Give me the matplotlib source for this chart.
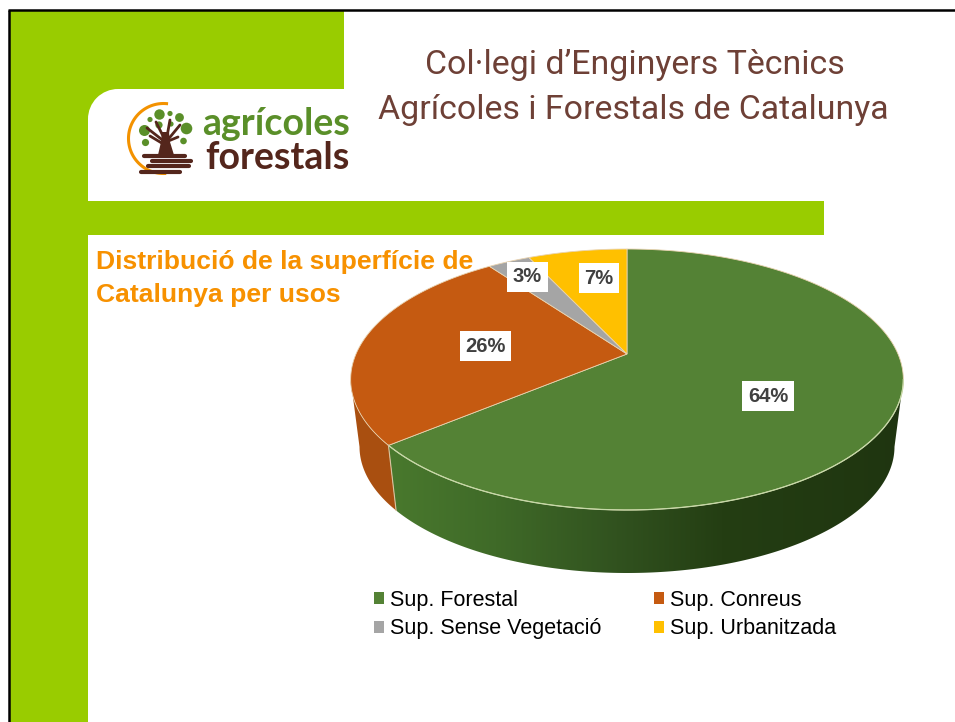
import numpy as np
import matplotlib
matplotlib.use('Agg')
import matplotlib.pyplot as plt
from matplotlib.patches import Circle, Polygon, Rectangle, Patch
from matplotlib.colors import LinearSegmentedColormap

plt.rcParams['font.family'] = ['Liberation Sans', 'DejaVu Sans']

categories = ['Sup. Forestal', 'Sup. Conreus', 'Sup. Sense Vegetació', 'Sup. Urbanitzada']
values = [64, 26, 3, 7]
pct_labels = ['64%', '26%', '3%', '7%']
colors = ['#548235', '#C55A11', '#A5A5A5', '#FFC000']
label_pos = [(768, 396), (485.5, 346), (527.5, 277), (599, 278)]

GREEN = '#99CC00'

# perspective pie, apex and size in pixels
cx, cy = 627, 354
a, b, k = 271, 125.5, 0.1955
shrink = 0.968
depth = 68


def rim(start, stop, n=200, lower=False):
    # start, stop: fraction of the circle, clockwise from 12 o'clock
    t = np.linspace(start, stop, n) * 2 * np.pi
    x, y = np.sin(t), np.cos(t)
    d = 1 + k * y
    px, py = a * x / d, -b * y / d
    if lower:
        return np.column_stack([cx + shrink * px, cy + depth + shrink * py])
    return np.column_stack([cx + px, cy + py])


fig = plt.figure(figsize=(9.55, 7.22), dpi=100)
ax = fig.add_axes([0, 0, 1, 1])

# slide background
ax.add_patch(Rectangle((9, 11), 79, 711, fc=GREEN, ec='none'))
ax.add_patch(Rectangle((88, 11), 256, 78, fc=GREEN, ec='none'))
ax.add_patch(Rectangle((88, 89), 30, 30, fc=GREEN, ec='none'))
ax.add_patch(Circle((118, 119), 30, fc='white', ec='none'))
ax.add_patch(Rectangle((88, 201), 736, 34, fc=GREEN, ec='none'))
ax.plot([8.5, 8.5], [722, 10], color='black', lw=1.8, solid_capstyle='butt')
ax.plot([8, 955], [10, 10], color='black', lw=1.8, solid_capstyle='butt')

# header
title_font = ['Roboto', 'DejaVu Sans']
ax.text(635, 65, 'Col·legi d’Enginyers Tècnics', ha='center', va='center',
        fontsize=24.4, color='#6E4036', family=title_font)
ax.text(633.5, 110, 'Agrícoles i Forestals de Catalunya', ha='center', va='center',
        fontsize=24.4, color='#6E4036', family=title_font)

# logo
t = np.radians(np.linspace(85, 272, 80))
ax.plot(163.5 + 35 * np.cos(t), 138.5 - 35 * np.sin(t), color='#F39200', lw=2.2)
leaf_x = [159.5, 179.5, 186.5, 144.5, 145.5, 183.5, 159, 171, 170, 150]
leaf_y = [114.5, 117.5, 128.5, 130.5, 142.5, 141, 125, 124, 113.5, 119.5]
leaf_r = [5.2, 4.4, 5.8, 5.5, 3.6, 3.3, 3.6, 2.6, 2.6, 2.6]
for x, y, r in zip(leaf_x, leaf_y, leaf_r):
    ax.add_patch(Circle((x, y), r, fc='#5A8F29', ec='none'))
brown = '#54261C'
ax.add_patch(Polygon([(158, 155), (174, 155), (170, 142), (169, 132), (162, 132), (161, 142)], fc=brown, ec='none'))
for x0, y0, x1, y1 in [(165, 142, 147, 128), (166, 142, 156, 122), (166, 142, 170, 120), (166, 142, 180, 125), (166, 142, 178, 137), (165, 145, 150, 136)]:
    ax.plot([x0, x1], [y0, y1], color=brown, lw=2, solid_capstyle='round')
for x0, x1, y in [(144, 185, 155.5), (152, 191, 161), (148, 189, 166), (141, 180, 172)]:
    ax.plot([x0, x1], [y, y], color=brown, lw=3, solid_capstyle='round')
ax.text(202, 124, 'agrícoles', ha='left', va='center', fontsize=27, fontweight='bold', color='#5A8F29', family=['Lato', 'DejaVu Sans'])
ax.text(205, 158, 'forestals', ha='left', va='center', fontsize=27, fontweight='bold', color=brown, family=['Lato', 'DejaVu Sans'])

# chart title
ax.text(96, 262, 'Distribució de la superfície de', ha='left', va='center', fontsize=19.05, fontweight='bold', color='#F79100')
ax.text(96, 295, 'Catalunya per usos', ha='left', va='center', fontsize=19.05, fontweight='bold', color='#F79100')

# side wall, slice edges are cumulative fractions of the values
edges = np.cumsum([0] + values) / np.sum(values)
wall_cmap = LinearSegmentedColormap.from_list('wall', [(0, '#4A7A2E'), (0.22, '#3F6A28'), (0.45, '#31521F'), (0.65, '#243E13'), (1, '#1F3510')])

fine = np.linspace(0, 1, 2001)
rx = rim(0, 1, n=2001)[:, 0]
f_right, f_left = fine[np.argmax(rx)], fine[np.argmin(rx)]

wall_green = np.vstack([rim(f_right, edges[1]), rim(f_right, edges[1], lower=True)[::-1]])
clip = Polygon(wall_green, closed=True, fc='none', ec='none')
ax.add_patch(clip)
im = ax.imshow(np.linspace(0, 1, 256)[None, :], extent=(380, 905, 580, 380), cmap=wall_cmap, aspect='auto', zorder=2)
im.set_clip_path(clip)
wall_orange = np.vstack([rim(edges[1], f_left), rim(edges[1], f_left, lower=True)[::-1]])
ax.add_patch(Polygon(wall_orange, closed=True, fc='#A94F10', ec='none', zorder=2))

ax.set_xlim(0, 955)
ax.set_ylim(722, 0)
ax.axis('off')

# top face
for i, c in enumerate(colors):
    pts = np.vstack([[cx, cy], rim(edges[i], edges[i + 1])])
    ax.add_patch(Polygon(pts, closed=True, fc=c, ec='#E9D3B0', lw=0.6, zorder=3))
front = rim(f_right, edges[1])
ax.plot(front[:, 0], front[:, 1], color='#C5D9A8', lw=0.9, zorder=4)
seam_top = rim(edges[1], edges[1], n=1)[0]
seam_low = rim(edges[1], edges[1], n=1, lower=True)[0]
ax.plot([seam_top[0], seam_low[0]], [seam_top[1], seam_low[1]], color='#D8C3A0', lw=0.8, zorder=4)

# data labels
for (x, y), s in zip(label_pos, pct_labels):
    ax.text(x, y, s, ha='center', va='center', fontsize=14.5, fontweight='bold', color='#404040', zorder=6,
            bbox=dict(fc='white', ec='none', pad=4))

# legend, filled column by column
handles = [Patch(fc=colors[i], ec='none', label=categories[i]) for i in [0, 2, 1, 3]]
ax.legend(handles=handles, ncol=2, loc='upper left', bbox_to_anchor=(374 / 955, 1 - 590 / 722),
          frameon=False, fontsize=15.5, handlelength=0.47, handleheight=0.47, handletextpad=0.27,
          columnspacing=2.45, labelspacing=0.34, borderpad=0, borderaxespad=0)

fig.savefig('out.png', dpi=100)
